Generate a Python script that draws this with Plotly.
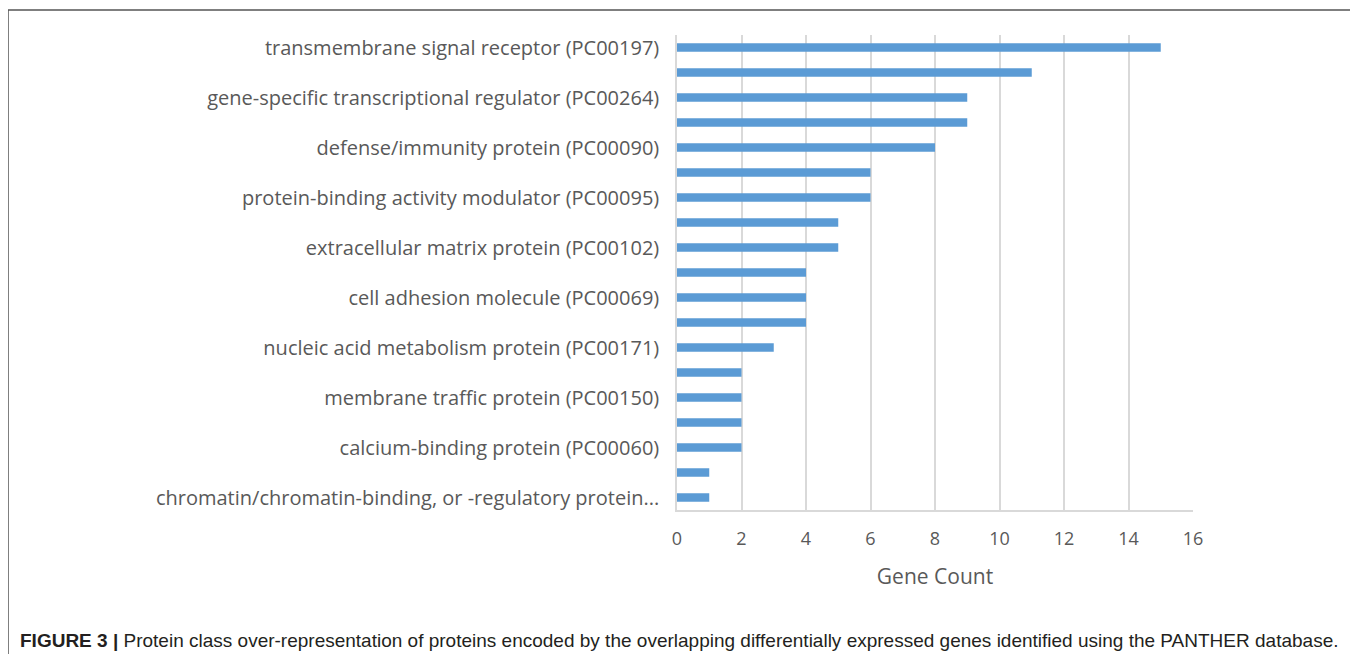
import plotly.graph_objects as go

# Category labels (only every other category is labelled in the original)
categories = [
    "transmembrane signal receptor (PC00197)", "",
    "gene-specific transcriptional regulator (PC00264)", "",
    "defense/immunity protein (PC00090)", "",
    "protein-binding activity modulator (PC00095)", "",
    "extracellular matrix protein (PC00102)", "",
    "cell adhesion molecule (PC00069)", "",
    "nucleic acid metabolism protein (PC00171)", "",
    "membrane traffic protein (PC00150)", "",
    "calcium-binding protein (PC00060)", "",
    "chromatin/chromatin-binding, or -regulatory protein...",
]
gene_counts = [15, 11, 9, 9, 8, 6, 6, 5, 5, 4, 4, 4, 3, 2, 2, 2, 2, 1, 1]
x_ticks = [0, 2, 4, 6, 8, 10, 12, 14, 16]

OFF = 8  # page body margin
W, H = 1358 - OFF, 654 - OFF
ML, MT = 677 - OFF, 35 - OFF
MR = W - (1193 - OFF)
MB = H - (510 - OFF)
PW, PH = W - ML - MR, H - MT - MB

positions = list(range(len(gene_counts)))

fig = go.Figure(go.Bar(
    x=gene_counts, y=positions, orientation="h",
    marker=dict(color="#5B9BD5", line=dict(width=0)),
    width=0.34,
))

def px_x(v):
    return (v - OFF - ML) / PW

def px_y(v):
    return (H - MB - (v - OFF)) / PH

fig.update_layout(
    width=W, height=H,
    margin=dict(l=ML, r=MR, t=MT, b=MB),
    paper_bgcolor="white", plot_bgcolor="white",
    showlegend=False,
    font=dict(family="Open Sans, sans-serif", color="#595959"),
    xaxis=dict(
        range=[0, 16], tickvals=x_ticks, ticktext=[str(t) for t in x_ticks],
        showgrid=True, gridcolor="#D9D9D9", gridwidth=1.5,
        zeroline=False, showline=True, linecolor="#D9D9D9", linewidth=1.5,
        ticks="", tickfont=dict(size=18, color="#595959"),
        ticklabelstandoff=12,
        title=dict(text="Gene Count", font=dict(size=21, color="#595959"), standoff=20),
        mirror=False,
    ),
    yaxis=dict(
        range=[len(gene_counts) - 0.5, -0.5],
        tickvals=positions, ticktext=categories,
        showgrid=False, zeroline=False,
        showline=True, linecolor="#D9D9D9", linewidth=1.5,
        ticks="", tickfont=dict(size=20, color="#595959"),
        ticklabelstandoff=12,
    ),
    shapes=[dict(
        type="rect", xref="paper", yref="paper",
        x0=px_x(8), x1=px_x(1356), y0=px_y(10), y1=px_y(700),
        line=dict(color="#555555", width=1.5), fillcolor="rgba(0,0,0,0)", layer="below",
    )],
    annotations=[dict(
        xref="paper", yref="paper", x=px_x(18), y=px_y(640),
        xanchor="left", yanchor="middle", showarrow=False,
        text="<b>FIGURE 3 |</b> Protein class over-representation of proteins encoded by the overlapping differentially expressed genes identified using the PANTHER database.",
        font=dict(family="Liberation Sans, Arial", size=19, color="#231F20"),
    )],
)

fig.write_html("out.html")
